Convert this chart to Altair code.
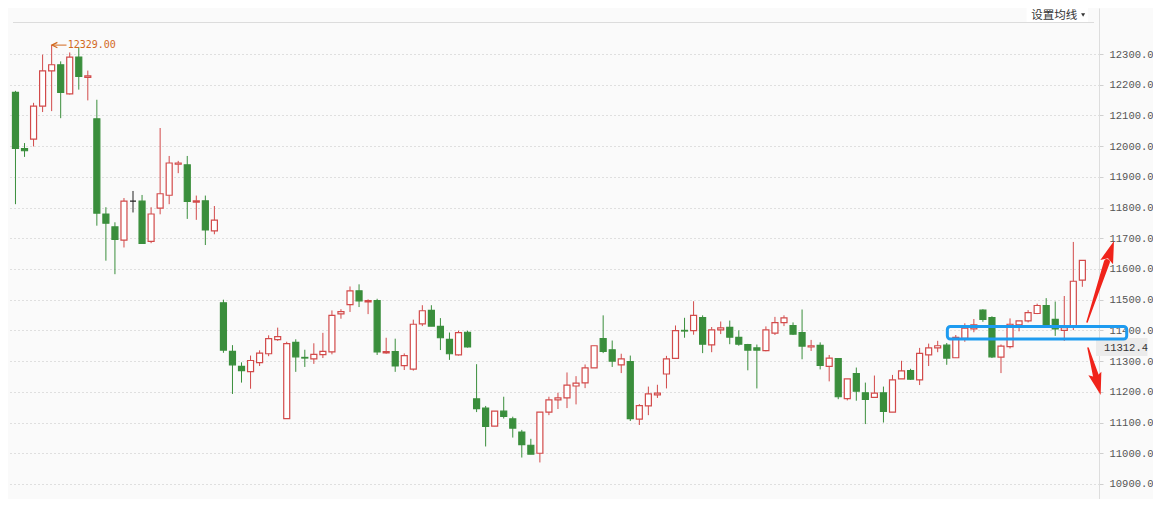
import altair as alt
import pandas as pd

# ---------------- data ----------------
opens = [12175, 11992, 12023, 12130, 12245, 12265, 12170, 12290, 12224, 12089,
         11779, 11737, 11694, 11821, 11821, 11690, 11798, 11840, 11941, 11939,
         11818, 11822, 11724, 11490, 11332, 11283, 11266, 11295, 11324, 11370,
         11113, 11361, 11312, 11307, 11321, 11330, 11454, 11484, 11529, 11493,
         11497, 11327, 11331, 11285, 11274, 11421, 11465, 11413, 11371, 11320,
         11394, 11177, 11147, 11088, 11137, 11112, 11069, 11026, 11000, 11134,
         11174, 11180, 11219, 11229, 11278, 11373, 11337, 11288, 11298, 11111,
         11154, 11190, 11258, 11309, 11400, 11399, 11442, 11353, 11402, 11410,
         11377, 11354, 11343, 11334, 11391, 11425, 11416, 11393, 11346, 11351,
         11283, 11308, 11178, 11259, 11197, 11182, 11197, 11134, 11242, 11269,
         11239, 11320, 11343, 11352, 11311, 11374, 11405, 11466, 11442, 11313,
         11347, 11418, 11431, 11455, 11481, 11436, 11400, 11415, 11564]
highs = [12180, 12010, 12141, 12298, 12329, 12276, 12305, 12323, 12246, 12151,
         11801, 11752, 11831, 11854, 11841, 11801, 12059, 11968, 11952, 11968,
         11839, 11839, 11805, 11500, 11352, 11296, 11318, 11335, 11384, 11409,
         11363, 11371, 11337, 11358, 11392, 11465, 11469, 11543, 11550, 11501,
         11503, 11376, 11373, 11325, 11435, 11482, 11482, 11440, 11393, 11399,
         11399, 11290, 11154, 11137, 11184, 11119, 11076, 11047, 11134, 11184,
         11197, 11263, 11251, 11289, 11350, 11449, 11367, 11324, 11318, 11160,
         11217, 11223, 11317, 11416, 11441, 11495, 11449, 11411, 11429, 11432,
         11400, 11356, 11354, 11413, 11444, 11449, 11426, 11468, 11369, 11361,
         11320, 11308, 11242, 11279, 11230, 11253, 11217, 11255, 11301, 11275,
         11343, 11357, 11366, 11359, 11385, 11423, 11437, 11469, 11446, 11354,
         11439, 11431, 11466, 11487, 11505, 11494, 11512, 11688, 11628]
lows = [11811, 11965, 11999, 12111, 12114, 12091, 12168, 12184, 12149, 11741,
        11627, 11583, 11670, 11784, 11683, 11684, 11778, 11811, 11912, 11763,
        11760, 11678, 11713, 11327, 11193, 11230, 11210, 11284, 11316, 11366,
        11113, 11265, 11281, 11291, 11310, 11322, 11438, 11460, 11476, 11453,
        11320, 11324, 11265, 11271, 11269, 11414, 11414, 11336, 11304, 11318,
        11344, 11134, 11022, 11088, 11113, 11051, 10986, 10997, 10970, 11124,
        11144, 11147, 11159, 11212, 11278, 11326, 11281, 11261, 11105, 11092,
        11124, 11180, 11211, 11309, 11376, 11386, 11326, 11329, 11388, 11355,
        11350, 11270, 11211, 11332, 11385, 11414, 11385, 11306, 11333, 11273,
        11234, 11176, 11172, 11171, 11095, 11182, 11100, 11134, 11242, 11239,
        11222, 11284, 11329, 11288, 11311, 11363, 11394, 11428, 11310, 11261,
        11341, 11397, 11426, 11453, 11413, 11382, 11366, 11401, 11542]
closes = [11993, 11985, 12130, 12245, 12265, 12175, 12290, 12227, 12229, 11782,
          11749, 11696, 11821, 11821, 11683, 11779, 11845, 11945, 11945, 11820,
          11822, 11727, 11759, 11336, 11288, 11269, 11302, 11326, 11373, 11380,
          11357, 11314, 11310, 11322, 11332, 11449, 11461, 11529, 11496, 11497,
          11330, 11331, 11284, 11318, 11420, 11464, 11414, 11376, 11324, 11393,
          11346, 11145, 11087, 11137, 11120, 11082, 11028, 10997, 11134, 11174,
          11180, 11222, 11228, 11278, 11350, 11332, 11300, 11307, 11113, 11155,
          11193, 11196, 11307, 11399, 11398, 11449, 11355, 11402, 11408, 11378,
          11355, 11336, 11336, 11402, 11425, 11441, 11388, 11349, 11350, 11286,
          11310, 11184, 11242, 11202, 11175, 11196, 11136, 11239, 11268, 11241,
          11325, 11343, 11350, 11310, 11377, 11407, 11418, 11436, 11314, 11349,
          11420, 11431, 11458, 11481, 11413, 11405, 11409, 11560, 11628]
axis_values = [10900, 11000, 11100, 11200, 11300, 11400, 11500, 11600,
               11700, 11800, 11900, 12000, 12100, 12200, 12300]
peak_index = 4
peak_value = 12329
peak_label = "12329.00"
last_price_label = "11312.4"
menu_label = "设置均线"

# ---------------- styling / layout ----------------
RED = "#d24a4a"
GREEN = "#3a8e3c"
FLAT = "#222222"
W, H = 1091, 491
S = 9.125                      # px per candle slot
X0 = -(10.5 - 8) / S
X1 = X0 + W / S
PPU = 0.3071                   # px per price unit
Y1 = 12449.8
Y0 = Y1 - H / PPU


def px2i(x):  # page x -> index units
    return X0 + (x - 8) / S


def py2v(y):  # page y -> price units
    return Y1 - (y - 8) / PPU


n = len(opens)
df = pd.DataFrame({"i": list(range(n)), "open": opens, "high": highs,
                   "low": lows, "close": closes})
df["dir"] = ["up" if c > o else ("down" if c < o else "flat")
             for o, c in zip(opens, closes)]

xs = alt.Scale(domain=[X0, X1], nice=False, zero=False)
ys = alt.Scale(domain=[Y0, Y1], nice=False, zero=False)
yaxis = alt.Axis(orient="right", values=axis_values, format=".1f", title=None,
                 grid=True, gridDash=[1, 3], gridColor="#c4c4c4",
                 domainColor="#dddddd", tickColor="#cfcfcf", tickSize=4,
                 labelFont="Liberation Mono", labelFontSize=10.5,
                 labelColor="#555555", labelPadding=6)
stroke_scale = alt.Scale(domain=["up", "down", "flat"], range=[RED, GREEN, FLAT])
fill_scale = alt.Scale(domain=["up", "down", "flat"], range=["#ffffff", GREEN, FLAT])

X = alt.X("i:Q", scale=xs, axis=None)


def XQ(f="x"):
    return alt.X(f + ":Q", scale=xs, axis=None)


def YQ(f="y"):
    return alt.Y(f + ":Q", scale=ys, axis=yaxis)


wicks = alt.Chart(df).mark_rule(strokeWidth=1).encode(
    x=X, y=YQ("low"), y2="high:Q",
    color=alt.Color("dir:N", scale=stroke_scale, legend=None),
)
bodies = alt.Chart(df).mark_bar(size=6, strokeWidth=1.2).encode(
    x=X, y=YQ("open"), y2="close:Q",
    fill=alt.Fill("dir:N", scale=fill_scale, legend=None),
    stroke=alt.Stroke("dir:N", scale=stroke_scale, legend=None),
)

# header separator
header_df = pd.DataFrame({"x": [X0], "x2": [X1], "y": [py2v(22.5)]})
header_line = alt.Chart(header_df).mark_rule(color="#dcdcdc", strokeWidth=1).encode(
    x=XQ(), x2="x2:Q", y=YQ())

# menu "设置均线 ▾"
menu_box_df = pd.DataFrame({"x": [px2i(1031)], "x2": [px2i(1093)],
                            "y": [py2v(22)], "y2": [Y1]})
menu_box = alt.Chart(menu_box_df).mark_rect(fill="#ffffff").encode(
    x=XQ(), x2="x2:Q", y=YQ(), y2="y2:Q")
menu_df = pd.DataFrame({"x": [px2i(1082)], "y": [py2v(15.5)], "t": [menu_label]})
menu_text = alt.Chart(menu_df).mark_text(
    align="right", baseline="middle", font="Noto Sans CJK SC", fontSize=11.5,
    color="#333333").encode(x=XQ(), y=YQ(), text="t:N")
caret_df = pd.DataFrame({"x": [px2i(1088)], "y": [py2v(15)]})
caret = alt.Chart(caret_df).mark_point(
    shape="triangle-down", filled=True, size=16, color="#333333", opacity=1).encode(
    x=XQ(), y=YQ())

# peak label: arrow pointing at the high, then the value
ORANGE = "#d2691e"
peak_df = pd.DataFrame({"x": [peak_index], "x2": [peak_index + 15 / S],
                        "y": [peak_value], "t": [peak_label]})
peak_line = alt.Chart(peak_df).mark_rule(color=ORANGE, strokeWidth=1).encode(
    x=XQ(), x2="x2:Q", y=YQ())
peak_tip = alt.Chart(peak_df).mark_point(
    shape="M1,-1L-1,0L1,1", filled=False, size=30, strokeWidth=1.2,
    color=ORANGE, opacity=1, xOffset=3).encode(x=XQ(), y=YQ())
peak_text = alt.Chart(peak_df).mark_text(
    align="left", baseline="middle", dx=16, font="DejaVu Sans Mono",
    fontSize=10, color=ORANGE).encode(x=XQ(), y=YQ(), text="t:N")

# blue highlight box
box_df = pd.DataFrame({"x": [px2i(951)], "x2": [px2i(1132)],
                       "y": [py2v(339)], "y2": [py2v(326.5)]})
blue_box = alt.Chart(box_df).mark_rect(
    fillOpacity=0, stroke="#1e9bf0", strokeWidth=3, cornerRadius=3).encode(
    x=XQ(), x2="x2:Q", y=YQ(), y2="y2:Q")

# last price tag
tag_df = pd.DataFrame({"x": [px2i(1101)], "x2": [px2i(1153)],
                       "y": [py2v(356)], "y2": [py2v(338)]})
tag_box = alt.Chart(tag_df).mark_rect(fill="#ebebeb").encode(
    x=XQ(), x2="x2:Q", y=YQ(), y2="y2:Q")
tag_text_df = pd.DataFrame({"x": [px2i(1109)], "y": [py2v(347.5)],
                            "t": [last_price_label]})
tag_text = alt.Chart(tag_text_df).mark_text(
    align="left", baseline="middle", font="Liberation Mono", fontSize=10.5,
    color="#333333").encode(x=XQ(), y=YQ(), text="t:N")

# red arrows (shafts as tapered trails, heads as rotated symbols)
ARROW = "#f0231a"
shaft_df = pd.DataFrame({
    "x": [px2i(1092), px2i(1112), px2i(1093), px2i(1101)],
    "y": [py2v(322), py2v(262), py2v(348), py2v(376)],
    "w": [1.5, 6, 1.5, 6],
    "g": ["up", "up", "down", "down"],
    "o": [0, 1, 0, 1],
})
shafts = alt.Chart(shaft_df).mark_trail(color=ARROW).encode(
    x=XQ(), y=YQ(),
    size=alt.Size("w:Q", scale=None, legend=None),
    detail="g:N", order="o:Q")
head_df = pd.DataFrame({
    "x": [px2i(1115.5), px2i(1102.8)],
    "y": [py2v(251.5), py2v(384.3)],
    "a": [19, 165],
})
heads = alt.Chart(head_df).mark_point(
    shape="M0,-1L0.6,1L0,0.65L-0.6,1Z", filled=True, size=500,
    color=ARROW, opacity=1).encode(
    x=XQ(), y=YQ(), angle=alt.Angle("a:Q", scale=None))

chart = alt.layer(
    header_line, wicks, bodies, menu_box, menu_text, caret,
    peak_line, peak_tip, peak_text,
    tag_box, tag_text, blue_box, shafts, heads,
).properties(
    width=W, height=H,
    autosize=alt.AutoSizeParams(type="none"),
    padding={"left": 0, "top": 0, "right": 54, "bottom": 0},
    background="#fafafa",
).configure_view(stroke=None)

chart.save("out.html", embed_options={"renderer": "svg", "actions": False})
